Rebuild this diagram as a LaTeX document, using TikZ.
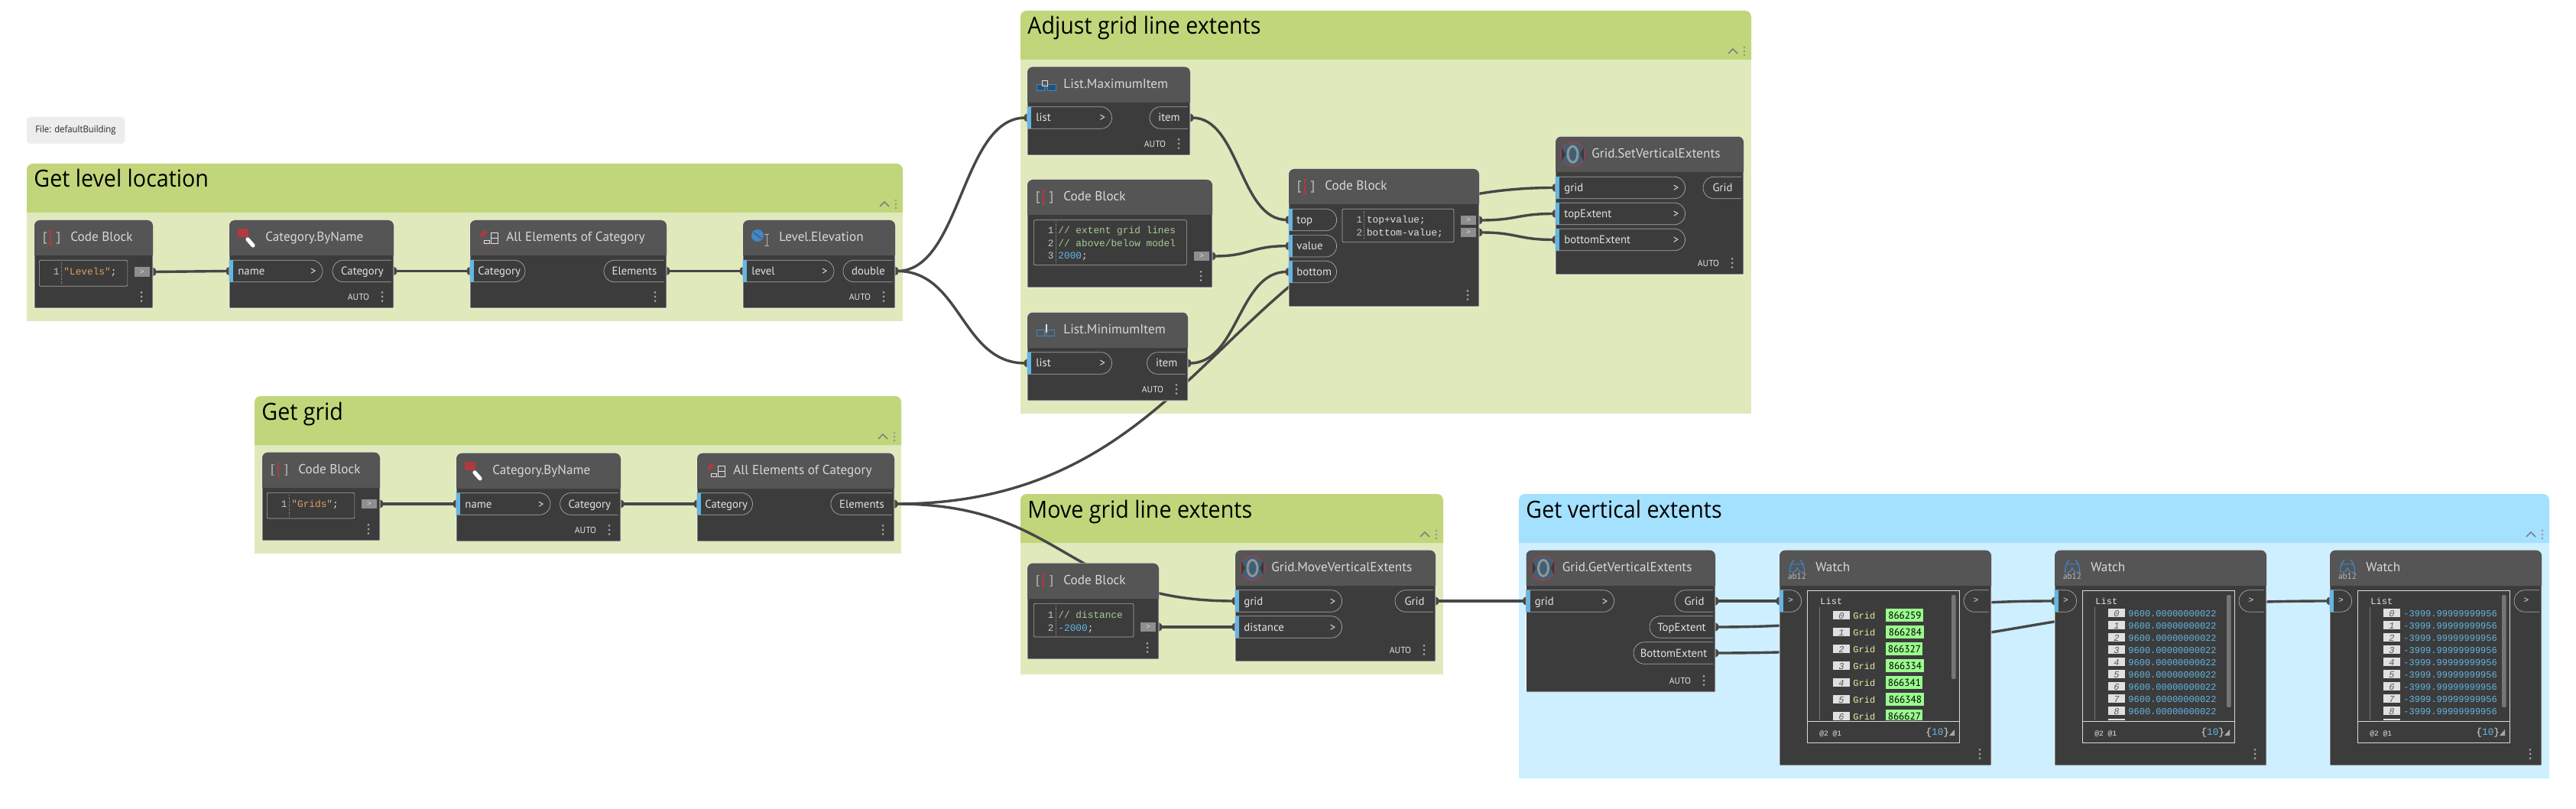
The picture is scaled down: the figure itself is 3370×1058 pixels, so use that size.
\documentclass[tikz,border=0pt]{standalone}
\usepackage{fontspec}
\setmainfont{PT Sans}
\setmonofont{Liberation Mono}
\newfontfamily\groupfont[FakeStretch=0.93]{Open Sans}
\usepackage{xcolor}
\usetikzlibrary{positioning, calc, arrows.meta, shapes.misc, shadows}
\definecolor{GroupGreen}{HTML}{C1D67A}
\definecolor{PaleGreen}{HTML}{E0E9BC}
\definecolor{GroupBlue}{HTML}{A4E1FF}
\definecolor{PaleBlue}{HTML}{CEEFFF}
\definecolor{NodeHead}{HTML}{555555}
\definecolor{NodeBody}{HTML}{3C3C3C}
\definecolor{PortLine}{HTML}{A8A8A8}
\definecolor{PortBlue}{HTML}{62B6E4}
\definecolor{PaleText}{HTML}{E2E2E2}
\definecolor{WireGray}{HTML}{474747}
\definecolor{CodeGreen}{HTML}{A9CB93}
\definecolor{CodeOrange}{HTML}{DDA05F}
\definecolor{CodeBlue}{HTML}{62B6E4}
\definecolor{GridYellow}{HTML}{ECECA2}
\definecolor{IdGreen}{HTML}{9AFB8E}
\definecolor{IconRed}{HTML}{B23A3E}
\definecolor{IconBlue}{HTML}{3F87C6}
\definecolor{IconTeal}{HTML}{3E6076}
\pgfdeclarelayer{groups}
\pgfdeclarelayer{wires}
\pgfsetlayers{groups,wires,main}
\tikzset{
  codeicon/.pic={
    \draw[PaleText!70!black, line width=0.6pt] (16,-7) -- (13,-7) -- (13,7) -- (16,7);
    \draw[PaleText!70!black, line width=0.6pt] (29,-7) -- (32,-7) -- (32,7) -- (29,7);
    \draw[IconRed, line width=0.6pt] (21,-9) -- (21,9) (19,-9) -- (23,-9) (19,9) -- (23,9);
  },
  tagicon/.pic={
    \fill[IconRed] (11,-12) rectangle (25,-1);
    \draw[white, line width=2.6pt, line cap=round] (24,2) -- (31,10);
  },
  allicon/.pic={
    \draw[IconRed, line width=2.2pt] (14,-2) -- (21,-9);
    \draw[IconRed, densely dotted, line width=0.5pt] (14,9) -- (37,9);
    \draw[PaleText, line width=0.5pt] (27,-6) rectangle (36,8) (27,1) -- (36,1);
    \draw[PaleText, line width=0.5pt] (18,4) rectangle (25,8);
  },
  levelicon/.pic={
    \fill[IconBlue] (19,-3) circle (8);
    \draw[NodeHead, line width=0.6pt] (14,-7) -- (24,1);
    \draw[PaleText!80!black, line width=0.5pt] (31,-4) -- (31,11) (28,-4) -- (34,-4) (28,11) -- (34,11);
  },
  maxicon/.pic={
    \draw[IconBlue, fill=IconBlue!60!black, line width=0.5pt] (12,0) rectangle (22,8) (26,0) rectangle (37,8);
    \draw[PaleText, line width=0.5pt] (19,-5) rectangle (26,2);
  },
  minicon/.pic={
    \draw[IconBlue, line width=0.5pt] (12,0) rectangle (22,8) (24,0) rectangle (35,8);
    \draw[PaleText, line width=0.6pt] (25,-8) -- (25,3);
  },
  gridicon/.pic={
    \fill[IconTeal] (22.5,0) circle (16);
    \draw[IconRed, line width=0.6pt] (22.5,0) circle (16);
    \fill[NodeHead!70!black] (8,-9) -- (13,0) -- (8,9) -- cycle (37,-9) -- (32,0) -- (37,9) -- cycle;
    \draw[black!42, line width=1.5pt] (22.5,0) ellipse (6.5 and 10.5);
  },
  watchicon/.pic={
    \draw[IconBlue, line width=0.6pt] (13,5) -- (15,-5) -- (19,-11) (33,5) -- (31,-5) -- (27,-11) (15,-5) -- (31,-5);
    \draw[IconBlue, line width=0.6pt] (13,5) -- (20,5) -- (23,0) -- (26,5) -- (33,5);
    \node[font=\fontsize{5.6}{6}\selectfont, text=PaleText!60!gray, inner sep=0pt] at (23,11) {ab12};
  },
  menudots/.pic={
    \fill[PortLine] (0,-5.7) circle (1.5) (0,0) circle (1.5) (0,5.7) circle (1.5);
  },
  griphandle/.pic={
    \draw[black!45, line width=0.25pt] (0,-5) circle (1) (0,0) circle (1) (0,5) circle (1);
  }
}
\begin{document}
\begin{tikzpicture}[
  x=0.5pt, y=-0.5pt,
  grouptitle/.style={font=\groupfont\fontsize{15.4}{18}\selectfont, text=black, inner sep=0pt, anchor=base west},
  nodetitle/.style={font=\fontsize{8.6}{10}\selectfont, text=PaleText!90!gray, inner sep=0pt, anchor=mid west},
  porttext/.style={font=\fontsize{7.4}{9}\selectfont, text=PaleText, inner sep=0pt},
  inport/.style={rounded rectangle, rounded rectangle west arc=none, draw=PortLine, line width=0.35pt, fill=NodeBody,
              minimum height=14.3pt, inner sep=0pt, outer sep=0pt, anchor=west},
  outport/.style={rounded rectangle, rounded rectangle east arc=none, draw=PortLine, line width=0.35pt, fill=NodeBody,
              minimum height=14.3pt, inner sep=0pt, outer ysep=0pt, outer xsep=1pt, anchor=east},
  codebox/.style={rectangle, rounded corners=1pt, draw=PortLine, line width=0.35pt, anchor=north west, inner sep=0pt},
  codetext/.style={font=\ttfamily\fontsize{6.4}{8}\selectfont, text=PaleText, inner sep=0pt, anchor=mid west},
  codenum/.style={font=\ttfamily\fontsize{6.4}{8}\selectfont, text=PaleText!70!gray, inner sep=0pt, anchor=mid east},
  codeout/.style={rectangle, fill=white!42!NodeBody, text=PaleText, font=\ttfamily\fontsize{4.6}{5}\selectfont, minimum width=10pt,
              minimum height=6.2pt, inner sep=0pt, outer ysep=0pt, outer xsep=2pt},
  autotag/.style={font=\fontsize{5.8}{7}\selectfont, text=PaleText, inner sep=0pt},
  watchtext/.style={font=\ttfamily\fontsize{6}{7}\selectfont, inner sep=0pt, anchor=mid west},
  wire/.style={{Ellipse[length=4.5pt,width=5.5pt]}-{Ellipse[length=4.5pt,width=5.5pt]}, shorten <=-2.25pt, shorten >=-2.25pt,
              line width=1.7pt, draw=WireGray},
  wirebend/.style={to path={let \p1=(\tikztostart), \p2=(\tikztotarget), \n1={0.5*(\x2-\x1)} in
              .. controls +(\n1,0) and ($(\tikztotarget)+(-\n1,0)$) .. (\tikztotarget)}}
]
  \node[rectangle, rounded corners=2pt, fill=black!7, drop shadow={opacity=0.12, shadow xshift=0pt, shadow yshift=-0.5pt},
        minimum width=64pt, minimum height=17pt, inner sep=0pt, font=\groupfont\fontsize{6.1}{7}\selectfont, text=black!85] (filetag) at (99,170) {File: defaultBuilding};

  \begin{pgfonlayer}{groups}
  \fill[white] (0,0) rectangle (3370,1058);
  \foreach \nm/\xa/\ya/\xb/\hd/\yb/\hc/\bc/\txt in {
      levelgroup/35/214/1181/278/420/GroupGreen/PaleGreen/Get level location,
      gridgroup/333/518/1179/582/724/GroupGreen/PaleGreen/Get grid,
      adjustgroup/1335/14/2291/78/541/GroupGreen/PaleGreen/Adjust grid line extents,
      movegroup/1335/646/1888/710/882/GroupGreen/PaleGreen/Move grid line extents,
      verticalgroup/1987/646/3335/710/1018/GroupBlue/PaleBlue/Get vertical extents} {
    \fill[\bc] (\xa,\hd) rectangle (\xb,\yb);
    \fill[\hc] (\xa,\hd) [rounded corners=4pt] -- (\xa,\ya) -- (\xb,\ya) [sharp corners] -- (\xb,\hd) -- cycle;
    \node[grouptitle] (\nm-title) at ({\xa+9},{\ya+31}) {\txt};
    \draw[black!50, line width=0.8pt] ({\xb-30},{\hd-8}) -- ({\xb-24},{\hd-14}) -- ({\xb-18},{\hd-8});
    \path ({\xb-9},{\hd-11}) pic {griphandle};
  }
  \end{pgfonlayer}

  \foreach \nm/\xa/\ya/\xb/\hd/\yb/\ic/\txt in {
      lvlcode/45/288/200/334/403/codeicon/Code Block,
      lvlcat/300/288/515/334/403/tagicon/Category.ByName,
      lvlall/615/288/872/334/403/allicon/All Elements of Category,
      lvlelev/972/288/1171/334/403/levelicon/Level.Elevation,
      gridcode/343/591.7/497/638/707/codeicon/Code Block,
      gridcat/597/592.7/812/639/708/tagicon/Category.ByName,
      gridall/912/592.7/1170/639/708/allicon/All Elements of Category,
      maxitem/1344/87.5/1557/134/203/maxicon/List.MaximumItem,
      adjcode/1344/235/1586/281/376/codeicon/Code Block,
      minitem/1344/408.6/1554/455/524/minicon/List.MinimumItem,
      adjblock/1686/221/1935/267/401/codeicon/Code Block,
      setext/2035/178.6/2281/225/359/gridicon/Grid.SetVerticalExtents,
      movecode/1344/736.7/1516/783/862/codeicon/Code Block,
      moveext/1616/719.7/1878/766/865/gridicon/Grid.MoveVerticalExtents,
      getext/1996.5/719.7/2244/766/905/gridicon/Grid.GetVerticalExtents,
      watchids/2328/719.7/2605/766/1001/watchicon/Watch,
      watchtop/2688/719.7/2965/766/1001/watchicon/Watch,
      watchbot/3048/719.7/3325/766/1001/watchicon/Watch} {
    \fill[NodeBody, draw=white, line width=0.4pt] (\xa,\yb) [rounded corners=3.5pt] -- (\xa,\ya) -- (\xb,\ya) [sharp corners] -- (\xb,\yb) -- cycle;
    \fill[NodeHead] (\xa,\hd) [rounded corners=3.5pt] -- (\xa,\ya) -- (\xb,\ya) [sharp corners] -- (\xb,\hd) -- cycle;
    \node[nodetitle] (\nm-title) at ({\xa+47},{(\ya+\hd)/2}) {\txt};
    \path (\xa,{(\ya+\hd)/2}) pic {\ic};
    \path ({\xb-15},{\yb-15}) pic {menudots};
  }

  \foreach \nm/\xa/\xb/\yc/\txt in {
      lvlname/300/422/354.5/name,
      lvllevel/972/1091/354.5/level,
      gridname/597/720/659/name,
      maxlist/1344/1454.5/154/list,
      minlist/1344/1454.5/475/list,
      setgrid/2035/2204.6/245.5/grid,
      settop/2035/2204.6/279.5/topExtent,
      setbottom/2035/2204.6/313.5/bottomExtent,
      movegrid/1616/1755.6/786/grid,
      movedist/1616/1755.6/820/distance,
      getgrid/1996.5/2111.7/786/grid} {
    \node[inport, minimum width={(\xb-\xa)*0.5pt}] (\nm) at (\xa,\yc) {};
    \fill[PortBlue] (\nm.north west) rectangle ([xshift=2.5pt]\nm.south west);
    \node[porttext, anchor=mid west] (\nm-text) at ([xshift=5.5pt]\nm.west) {\txt};
    \node[porttext, anchor=mid east] (\nm-mark) at ([xshift=-4pt]\nm.east) {>};
  }
  \foreach \nm/\xa/\xb/\yc/\txt in {
      lvlcatin/615/687/354.5/Category,
      gridcatin/912/984.5/659/Category,
      blocktop/1686/1748.6/287.5/top,
      blockvalue/1686/1748.6/321.7/value,
      blockbottom/1686/1748.6/355.5/bottom} {
    \node[inport, minimum width={(\xb-\xa)*0.5pt}] (\nm) at (\xa,\yc) {};
    \fill[PortBlue] (\nm.north west) rectangle ([xshift=2.5pt]\nm.south west);
    \node[porttext, anchor=mid west] (\nm-text) at ([xshift=5pt]\nm.west) {\txt};
  }
  \foreach \nm/\xa/\xb/\yc/\txt in {
      lvlcatout/435/515/354.5/Category,
      lvlelements/790/872/354.5/Elements,
      lvldouble/1103/1171/354.5/double,
      gridcatout/732.6/812/659/Category,
      gridelements/1087/1170/659/Elements,
      maxout/1504/1557/154/item,
      minout/1500.5/1554/475/item,
      setout/2228/2281/245.5/Grid,
      moveout/1825/1878/786/Grid,
      getgridout/2191/2244/786/Grid,
      gettopout/2158/2244/820/TopExtent,
      getbottomout/2137/2244/854/BottomExtent} {
    \node[outport, minimum width={(\xb-\xa-2)*0.5pt}] (\nm) at (\xb,\yc) {};
    \fill[NodeBody] ({\xb-3},{\yc-16}) rectangle ({\xb-1},{\yc+16});
    \node[porttext, anchor=mid] (\nm-text) at ({(\xa+\xb)/2-1},\yc) {\txt};
  }

  \foreach \nm/\xa/\xb/\ya/\yb in {
      lvlbox/51/166.5/340/374,
      gridbox/349/463.5/644/677.7,
      adjbox/1352/1552/287.5/346.4,
      blockbox/1755.6/1901.6/273/316.4,
      movebox/1352/1482.6/789/832.7} {
    \node[codebox, minimum width={(\xb-\xa)*0.5pt}, minimum height={(\yb-\ya)*0.5pt}] (\nm) at (\xa,\ya) {};
    \draw[PortLine, densely dotted, line width=0.25pt] ({\xa+29},{\ya+3}) -- ({\xa+29},{\yb-3});
  }
  \foreach \nm/\xa/\yc/\num/\txt in {
      lvlline/51/354.5/1/{\textcolor{CodeOrange}{"Levels"};},
      gridline/349/658/1/{\textcolor{CodeOrange}{"Grids"};},
      adjlinea/1352/301/1/{\textcolor{CodeGreen}{// extent grid lines}},
      adjlineb/1352/318/2/{\textcolor{CodeGreen}{// above/below model}},
      adjlinec/1352/334/3/{\textcolor{CodeBlue}{2000};},
      blocklinea/1755.6/287/1/{top+value;},
      blocklineb/1755.6/304/2/{bottom-value;},
      movelinea/1352/803/1/{\textcolor{CodeGreen}{// distance}},
      movelineb/1352/820/2/{\textcolor{CodeBlue}{-2000};}} {
    \node[codenum] (\nm-num) at ({\xa+27},\yc) {\num};
    \node[codetext] (\nm) at ({\xa+32},\yc) {\txt};
  }

  \node[codeout] (lvlcodeout) at (186,355.5) {>};
  \node[codeout] (gridcodeout) at (483,659) {>};
  \node[codeout] (adjcodeout) at (1572,335) {>};
  \node[codeout] (blockouta) at (1921,288) {>};
  \node[codeout] (blockoutb) at (1921,304) {>};
  \node[codeout] (movecodeout) at (1502,820) {>};

  \foreach \nm/\x/\y in {lvlcatauto/469/388, lvlelevauto/1125/388, gridcatauto/766/693, maxauto/1511/188, minauto/1508/509,
      setauto/2235/344, moveauto/1832/850, getauto/2198/890} {
    \node[autotag] (\nm) at (\x,\y) {AUTO};
  }

  \foreach \nm/\dx/\sbar in {watchids/0/888, watchtop/360/925, watchbot/720/925} {
    \node[inport, minimum width=14pt] (\nm-in) at ({2328+\dx},786) {};
    \fill[PortBlue] (\nm-in.north west) rectangle ([xshift=2.5pt]\nm-in.south west);
    \node[font=\ttfamily\fontsize{5.6}{6}\selectfont, text=PaleText, inner sep=0pt] (\nm-inmark) at ({2342.5+\dx},785) {>};
    \node[outport, minimum width=17pt] (\nm-out) at ({2605+\dx},786) {};
    \fill[NodeBody] ({2602+\dx},770) rectangle ({2604+\dx},802);
    \node[font=\ttfamily\fontsize{5.6}{6}\selectfont, text=PaleText, inner sep=0pt] (\nm-outmark) at ({2585+\dx},785) {>};
    \node[rectangle, draw=white!85!black, line width=0.4pt, anchor=north west, minimum width=99.5pt, minimum height=99.4pt, inner sep=0pt] (\nm-box) at ({2363.5+\dx},772.3) {};
    \draw[white!85!black, line width=0.4pt] ({2363.5+\dx},943) -- ({2562.6+\dx},943);
    \fill[PortLine!70!black, rounded corners=1pt] ({2553+\dx},778) rectangle ({2558.6+\dx},\sbar);
    \node[watchtext, text=PaleText] (\nm-list) at ({2381+\dx},785.7) {List};
    \draw[PortLine!70!black, line width=0.3pt] ({2380+\dx},794) -- ({2380+\dx},941.7);
    \node[font=\ttfamily\fontsize{4.8}{6}\selectfont, text=PaleText, inner sep=0pt, anchor=mid west] (\nm-levels) at ({2380+\dx},957) {@2 @1};
    \node[font=\ttfamily\fontsize{6.4}{8}\selectfont, text=PaleText, inner sep=0pt, anchor=mid west] (\nm-count) at ({2519+\dx},956) {\{\textcolor{CodeBlue}{10}\}};
    \fill[PortLine] ({2550+\dx},962) -- ({2557+\dx},962) -- ({2557+\dx},954) -- cycle;
  }

  \begin{scope}
    \clip (2365,778) rectangle (2552,941.7);
    \foreach \i/\id/\idw in {0/866259/49, 1/866284/50, 2/866327/48, 3/866334/50, 4/866341/48, 5/866348/50, 6/866627/48} {
      \fill[black!12] (2398,{798.5+22*\i}) rectangle (2420,{809.5+22*\i});
      \node[watchtext, anchor=mid, font=\ttfamily\itshape\fontsize{6}{7}\selectfont, text=black!65] (idx-\i) at (2409,{804+22*\i}) {\i};
      \node[watchtext, text=GridYellow] (gridword-\i) at (2424,{804+22*\i}) {Grid};
      \node[rectangle, fill=IdGreen, text=black, anchor=north west, minimum width={\idw*0.5pt}, minimum height=8.4pt, inner sep=0pt,
            font=\fontsize{6.6}{7}\selectfont] (id-\i) at (2467,{796+22*\i}) {\id};
    }
  \end{scope}
  \foreach \nm/\dx/\val in {top/360/9600.00000000022, bot/720/-3999.99999999956} {
    \begin{scope}
      \clip ({2365+\dx},778) rectangle ({2552+\dx},941.7);
      \foreach \i in {0,...,9} {
        \fill[black!12] ({2398+\dx},{795.5+16*\i}) rectangle ({2420+\dx},{806.5+16*\i});
        \node[watchtext, anchor=mid, font=\ttfamily\itshape\fontsize{6}{7}\selectfont, text=black!65] (\nm-idx-\i) at ({2409+\dx},{801+16*\i}) {\i};
        \node[watchtext, text=CodeBlue] (\nm-val-\i) at ({2424+\dx},{801+16*\i}) {\val};
      }
    \end{scope}
  }

  \begin{pgfonlayer}{wires}
    \draw[wire] (lvlcodeout.east) to[wirebend] (lvlname.west);
    \draw[wire] (lvlcatout.east) to[wirebend] (lvlcatin.west);
    \draw[wire] (lvlelements.east) to[wirebend] (lvllevel.west);
    \draw[wire] (lvldouble.east) to[wirebend] (maxlist.west);
    \draw[wire] (lvldouble.east) to[wirebend] (minlist.west);
    \draw[wire] (gridcodeout.east) to[wirebend] (gridname.west);
    \draw[wire] (gridcatout.east) to[wirebend] (gridcatin.west);
    \draw[wire] (gridelements.east) to[wirebend] (setgrid.west);
    \draw[wire] (gridelements.east) to[wirebend] (movegrid.west);
    \draw[wire] (maxout.east) to[wirebend] (blocktop.west);
    \draw[wire] (adjcodeout.east) to[wirebend] (blockvalue.west);
    \draw[wire] (minout.east) to[wirebend] (blockbottom.west);
    \draw[wire] (blockouta.east) to[wirebend] (settop.west);
    \draw[wire] (blockoutb.east) to[wirebend] (setbottom.west);
    \draw[wire] (movecodeout.east) to[wirebend] (movedist.west);
    \draw[wire] (moveout.east) to[wirebend] (getgrid.west);
    \draw[wire] (getgridout.east) to[wirebend] (watchids-in.west);
    \draw[wire] (gettopout.east) to[wirebend] (watchtop-in.west);
    \draw[wire] (getbottomout.east) to[wirebend] (watchbot-in.west);
  \end{pgfonlayer}
  \path[use as bounding box] (0,0) rectangle (3370,1058);
\end{tikzpicture}
\end{document}
